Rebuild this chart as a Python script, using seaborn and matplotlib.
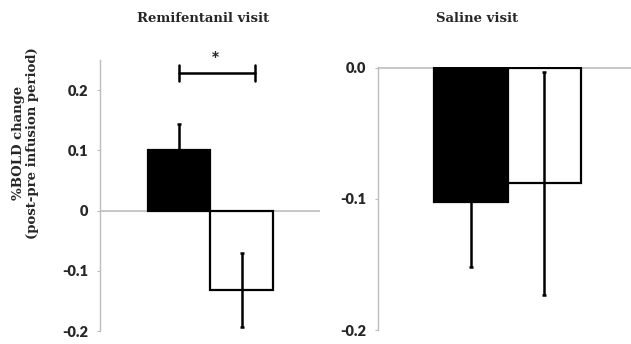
import matplotlib
matplotlib.use("Agg")
import matplotlib.pyplot as plt
import seaborn as sns
import pandas as pd
import numpy as np

# data
groups = ["A", "B"]
remi_means = [0.100, -0.132]
remi_err = [0.043, 0.062]
saline_means = [-0.1027, -0.088]
saline_err = [0.049, 0.085]
remi_ticks = [-0.2, -0.1, 0, 0.1, 0.2]
remi_ticklabels = ["-0.2", "-0.1", "0", "0.1", "0.2"]
saline_ticks = [-0.2, -0.1, 0.0]
saline_ticklabels = ["-0.2", "-0.1", "0.0"]
bar_colors = ["black", "white"]

sns.set_style("white")
plt.rcParams["font.family"] = ["Lato", "DejaVu Sans"]

fig = plt.figure(figsize=(6.31, 3.44), dpi=100)
ax1 = fig.add_axes([100/631, 1-331/344, 220/631, 271/344])
ax2 = fig.add_axes([378/631, 1-330/344, 253/631, 263/344])

axis_grey = "#bdbdbd"


def draw_panel(ax, means, errs, ticks, ticklabels, ylim, xlim):
    df = pd.DataFrame({"grp": groups, "val": means})
    sns.barplot(data=df, x="grp", y="val", hue="grp", palette=bar_colors,
                edgecolor="black", linewidth=1.6, width=1.0, errorbar=None,
                legend=False, ax=ax, zorder=2)
    ax.axhline(0, color=axis_grey, lw=1.2, zorder=1)
    ax.errorbar(np.arange(len(groups)), means, yerr=errs, fmt="none",
                ecolor="black", elinewidth=1.8, capsize=1.5, capthick=1.8,
                zorder=3)
    ax.set_xlim(*xlim)
    ax.set_ylim(*ylim)
    ax.set_yticks(ticks)
    ax.set_yticklabels(ticklabels, fontweight="heavy", fontsize=10.5)
    ax.set_xticks([])
    ax.set_xlabel("")
    ax.set_ylabel("")
    for s in ["top", "right", "bottom"]:
        ax.spines[s].set_visible(False)
    ax.spines["left"].set_color(axis_grey)
    ax.spines["left"].set_linewidth(1.0)
    ax.tick_params(axis="y", left=True, length=2.5, width=0.8,
                   color=axis_grey, pad=6)


draw_panel(ax1, remi_means, remi_err, remi_ticks, remi_ticklabels,
           (-0.2, 0.25), (-1.264, 2.256))
draw_panel(ax2, saline_means, saline_err, saline_ticks, saline_ticklabels,
           (-0.2, 0.0), (-1.265, 2.177))
ax2.set_ylim(-0.2, 0.0005)

# significance bracket
by, bh = 0.228, 0.013
ax1.plot([0, 1.21], [by, by], color="black", lw=1.8, clip_on=False)
ax1.plot([0, 0], [by - bh, by + bh], color="black", lw=1.8, clip_on=False)
ax1.plot([1.21, 1.21], [by - bh, by + bh], color="black", lw=1.8, clip_on=False)
ax1.text(0.58, by + 0.004, "*", ha="center", va="bottom", fontsize=15,
         fontweight="bold", clip_on=False)

title_font = dict(family=["DejaVu Serif"], fontweight="bold", fontsize=9.5)
fig.text(203/631, 1-18/344, "Remifentanil visit", ha="center", va="center",
         **title_font)
fig.text(477/631, 1-18/344, "Saline visit", ha="center", va="center",
         **title_font)
fig.text(26/631, 1-143/344, "%BOLD change\n(post-pre infusion period)",
         ha="center", va="center", rotation=90, linespacing=1.1, **title_font)

fig.savefig("out.png", dpi=100)
